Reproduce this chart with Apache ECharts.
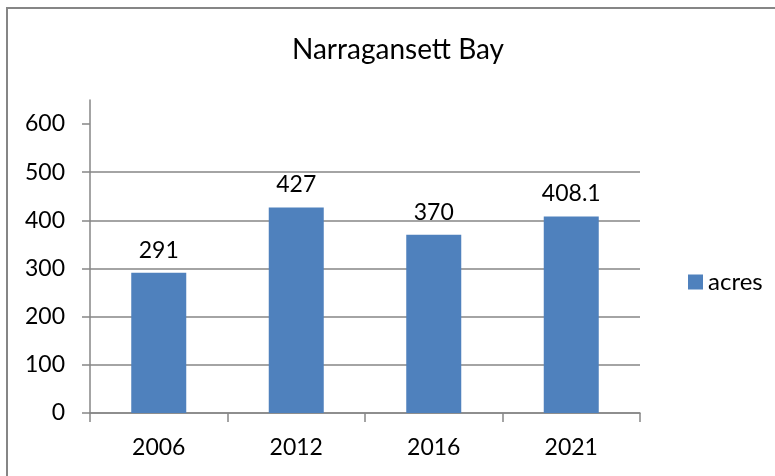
<!DOCTYPE html>
<html>
<head>
<meta charset="utf-8">
<script src="https://cdn.jsdelivr.net/npm/echarts@6/dist/echarts.min.js"></script>
<style>
html,body{margin:0;padding:0;background:#fff;}
#chart{width:775px;height:476px;}
</style>
</head>
<body>
<div id="chart"></div>
<script>
const titleText = 'Narragansett Bay';
const categories = ['2006', '2012', '2016', '2021'];
const seriesName = 'acres';
const values = [291, 427, 370, 408.1];
const yTicks = [0, 100, 200, 300, 400, 500, 600];

const FONT = 'Lato';
const chart = echarts.init(document.getElementById('chart'));
chart.setOption({
  animation: false,
  backgroundColor: '#fff',
  graphic: [{
    type: 'rect',
    shape: { x: 7, y: 8, width: 820, height: 520 },
    style: { fill: 'none', stroke: '#868686', lineWidth: 2 },
    silent: true
  }],
  title: {
    text: titleText,
    left: 287,
    top: 31,
    textStyle: { fontFamily: FONT, fontSize: 28, fontWeight: 'normal', color: '#000' }
  },
  legend: {
    data: [seriesName],
    left: 683,
    top: 265,
    orient: 'vertical',
    itemWidth: 15,
    itemHeight: 15,
    itemGap: 5,
    icon: 'rect',
    textStyle: { fontFamily: FONT, fontSize: 24, color: '#000' }
  },
  grid: { left: 90, right: 135, top: 100, bottom: 63, containLabel: false },
  xAxis: {
    type: 'category',
    data: categories,
    axisLine: { lineStyle: { color: '#868686', width: 1.5 } },
    axisTick: { show: true, length: 9, lineStyle: { color: '#868686', width: 1.5 } },
    axisLabel: { fontFamily: FONT, fontSize: 23, color: '#000', margin: 23 },
    splitLine: { show: false }
  },
  yAxis: {
    type: 'value',
    min: 0,
    max: 650,
    interval: 100,
    axisLine: { show: true, lineStyle: { color: '#868686', width: 1.5 } },
    axisTick: { show: true, length: 8, inside: false, customValues: yTicks, lineStyle: { color: '#868686', width: 1.5 } },
    axisLabel: { fontFamily: FONT, fontSize: 23, color: '#000', margin: 25, customValues: yTicks },
    splitLine: { show: true, showMaxLine: false, lineStyle: { color: '#868686', width: 1.5 } }
  },
  series: [{
    name: seriesName,
    type: 'bar',
    data: values,
    barWidth: '40%',
    itemStyle: { color: '#4F81BD' },
    label: {
      show: true,
      position: 'top',
      distance: 11,
      fontFamily: FONT,
      fontSize: 23,
      color: '#000'
    }
  }]
});
</script>
</body>
</html>
